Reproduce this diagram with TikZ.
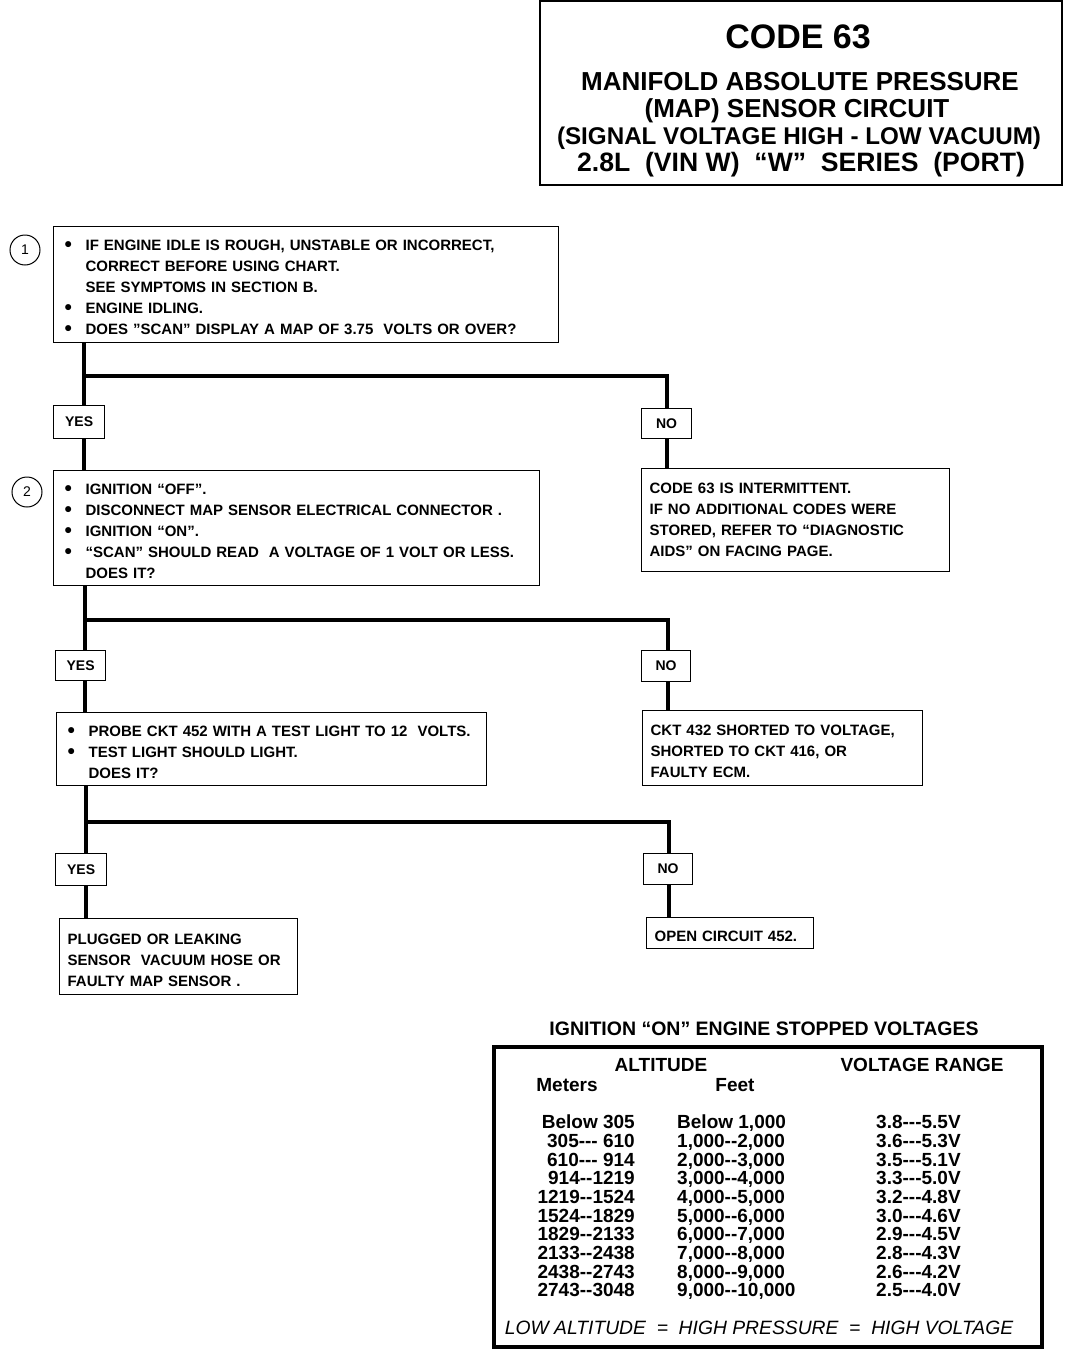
\documentclass[tikz,border=0pt]{standalone}
\usepackage{fontspec}
\setmainfont{Liberation Sans}
\newcommand\tri{\mbox{-}\mbox{-}\mbox{-}}
\newcommand\two{\mbox{-}\mbox{-}}
\newcommand\bul{\makebox[21pt][l]{\raisebox{-1pt}{\fontsize{21}{21}\selectfont\textbullet}}}
\newcommand\ind{\hspace*{21pt}}
\newcommand\tp{\rule{0pt}{17pt}}
\begin{document}
\begin{tikzpicture}[x=1pt,y=-1pt,
  tbox/.style={draw,line width=1.2pt,anchor=north west,inner xsep=11pt,inner ysep=0pt,align=left,
    font=\fontsize{15}{21}\selectfont\bfseries},
  yn/.style={draw,line width=1.2pt,anchor=north west,inner sep=0pt,font=\fontsize{14}{14}\selectfont\bfseries},
  conn/.style={line width=4.5pt},
  num/.style={circle,draw,line width=1pt,minimum size=30pt,inner sep=0pt,font=\fontsize{14}{14}\selectfont},
  ttl/.style={font=\bfseries,inner sep=0pt,anchor=center},
  cell/.style={inner sep=0pt,font=\fontsize{19}{19}\selectfont\bfseries}]
\useasboundingbox (0,0) rectangle (1072,1360);

% title block
\draw[line width=2pt] (540,1) -- (1062,1) -- (1062,185) -- (540,185) -- cycle;
\node[ttl,font=\fontsize{34}{34}\selectfont\bfseries] (t1) at (798,37) {CODE 63};
\node[ttl,font=\fontsize{26}{26}\selectfont\bfseries] (t2) at (800,82) {MANIFOLD ABSOLUTE PRESSURE};
\node[ttl,font=\fontsize{26}{26}\selectfont\bfseries] (t3) at (797,111) {(MAP) SENSOR CIRCUIT};
\node[ttl,font=\fontsize{24.2}{24.2}\selectfont\bfseries] (t4) at (799,138) {(SIGNAL VOLTAGE HIGH - LOW VACUUM)};
\node[ttl,font=\fontsize{26.6}{26.6}\selectfont\bfseries] (t5) at (801,165) {2.8L\ \ (VIN W)\ \ “W”\ \ SERIES\ \ (PORT)};

% step 1
\node[num] (c1) at (25,250) {1};
\node[tbox,minimum width=505pt,minimum height=116pt,text width=483pt] (b1) at (53,226)
 {\tp\bul IF ENGINE IDLE IS ROUGH, UNSTABLE OR INCORRECT,\\
  \ind CORRECT BEFORE USING CHART.\\
  \ind SEE SYMPTOMS IN SECTION B.\\
  \bul ENGINE IDLING.\\
  \bul DOES "SCAN" DISPLAY A MAP OF 3.75\ \ VOLTS OR OVER?};
\node[yn,minimum width=51pt,minimum height=33pt] (yes1) at (53,405) {YES};
\node[yn,minimum width=50pt,minimum height=30pt] (no1) at (641,408) {NO};

% step 2
\node[num] (c2) at (27,492) {2};
\node[tbox,minimum width=486pt,minimum height=115pt,text width=464pt] (b2) at (53,470)
 {\tp\bul IGNITION “OFF”.\\
  \bul DISCONNECT MAP SENSOR ELECTRICAL CONNECTOR .\\
  \bul IGNITION “ON”.\\
  \bul “SCAN” SHOULD READ\ \ A VOLTAGE OF 1 VOLT OR LESS.\\
  \ind DOES IT?};
\node[tbox,minimum width=308pt,minimum height=103pt,text width=292pt,inner xsep=8pt] (n1) at (641,468)
 {CODE 63 IS INTERMITTENT.\\
  IF NO ADDITIONAL CODES WERE\\
  STORED, REFER TO “DIAGNOSTIC\\
  AIDS” ON FACING PAGE.};
\node[yn,minimum width=50pt,minimum height=30pt] (yes2) at (55,650) {YES};
\node[yn,minimum width=49pt,minimum height=31pt] (no2) at (641,650) {NO};

% step 3
\node[tbox,minimum width=430pt,minimum height=73pt,text width=408pt] (b3) at (56,712)
 {\tp\bul PROBE CKT 452 WITH A TEST LIGHT TO 12\ \ VOLTS.\\
  \bul TEST LIGHT SHOULD LIGHT.\\
  \ind DOES IT?};
\node[tbox,minimum width=280pt,minimum height=75pt,text width=264pt,inner xsep=8pt] (n2) at (642,710)
 {\tp CKT 432 SHORTED TO VOLTAGE,\\
  SHORTED TO CKT 416, OR\\
  FAULTY ECM.};
\node[yn,minimum width=51pt,minimum height=32pt] (yes3) at (55,853) {YES};
\node[yn,minimum width=49pt,minimum height=31pt] (no3) at (643,853) {NO};

% results
\node[tbox,minimum width=238pt,minimum height=76pt,text width=222pt,inner xsep=8pt] (r1) at (59,918)
 {\tp PLUGGED OR LEAKING\\
  SENSOR\ \ VACUUM HOSE OR\\
  FAULTY MAP SENSOR .};
\node[tbox,minimum width=167pt,minimum height=31pt,text width=151pt,inner xsep=8pt] (r2) at (646,917)
 {\tp OPEN CIRCUIT 452.};

% connectors
\coordinate (j1) at (84,376);
\coordinate (j2) at (85,620);
\coordinate (j3) at (86,822);
\draw[conn] (b1.south -| j1) -- (j1) -- (j1 -| 667,0) -- (no1.north -| 667,0);
\draw[conn] (j1) -- (yes1.north -| j1);
\draw[conn] (yes1.south -| j1) -- (b2.north -| j1);
\draw[conn] (no1.south -| 667,0) -- (n1.north -| 667,0);
\draw[conn] (b2.south -| j2) -- (j2) -- (j2 -| 668,0) -- (no2.north -| 668,0);
\draw[conn] (j2) -- (yes2.north -| j2);
\draw[conn] (yes2.south -| j2) -- (b3.north -| j2);
\draw[conn] (no2.south -| 668,0) -- (n2.north -| 668,0);
\draw[conn] (b3.south -| j3) -- (j3) -- (j3 -| 669,0) -- (no3.north -| 669,0);
\draw[conn] (j3) -- (yes3.north -| j3);
\draw[conn] (yes3.south -| j3) -- (r1.north -| j3);
\draw[conn] (no3.south -| 669,0) -- (r2.north -| 669,0);

% table
\node[ttl,font=\fontsize{19.5}{19.5}\selectfont\bfseries] (tt) at (764,1029) {IGNITION “ON” ENGINE STOPPED VOLTAGES};
\draw[line width=3.5pt] (494,1047) rectangle (1042,1347);
\node[cell] (hA) at (661,1065) {ALTITUDE};
\node[cell] (hV) at (922,1065) {VOLTAGE RANGE};
\node[cell] (hM) at (567,1085) {Meters};
\node[cell] (hF) at (735,1085) {Feet};
\foreach \m/\f/\v [count=\i from 0] in {
  {Below 305}/{Below 1,000}/{3.8\tri5.5V},
  {305\tri\ 610}/{1,000\two2,000}/{3.6\tri5.3V},
  {610\tri\ 914}/{2,000\two3,000}/{3.5\tri5.1V},
  {914\two1219}/{3,000\two4,000}/{3.3\tri5.0V},
  {1219\two1524}/{4,000\two5,000}/{3.2\tri4.8V},
  {1524\two1829}/{5,000\two6,000}/{3.0\tri4.6V},
  {1829\two2133}/{6,000\two7,000}/{2.9\tri4.5V},
  {2133\two2438}/{7,000\two8,000}/{2.8\tri4.3V},
  {2438\two2743}/{8,000\two9,000}/{2.6\tri4.2V},
  {2743\two3048}/{9,000\two10,000}/{2.5\tri4.0V}}{
  \node[cell,anchor=base east] (m\i) at (635,1128.8+18.67*\i) {\m};
  \node[cell,anchor=base west] (f\i) at (677,1128.8+18.67*\i) {\f};
  \node[cell,anchor=base west] (v\i) at (876,1128.8+18.67*\i) {\v};
}
\node[inner sep=0pt,font=\fontsize{19.3}{19.3}\selectfont\itshape] (ft) at (759,1328) {LOW ALTITUDE\ \ =\ \ HIGH PRESSURE\ \ =\ \ HIGH VOLTAGE};
\end{tikzpicture}
\end{document}
